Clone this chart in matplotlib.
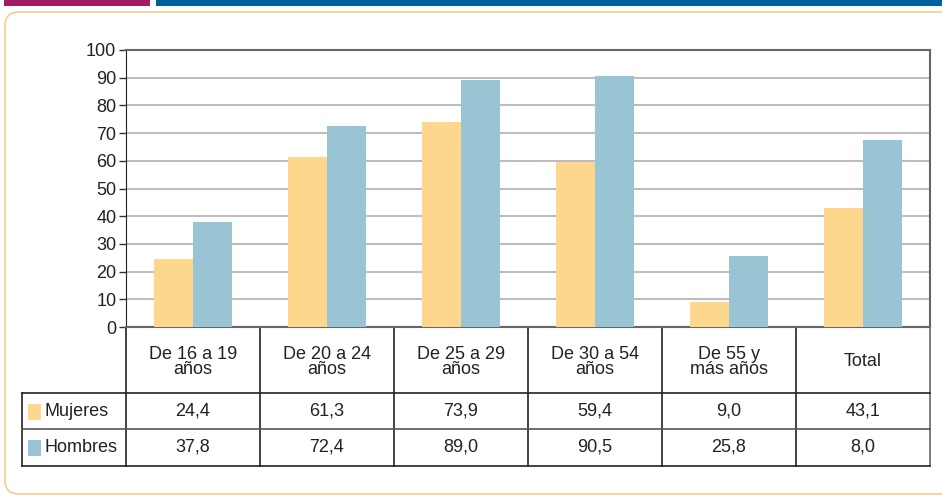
import matplotlib.pyplot as plt
from matplotlib.patches import FancyBboxPatch, Rectangle

plt.rcParams['font.family'] = ['Liberation Sans', 'DejaVu Sans']

categories = ['De 16 a 19\naños', 'De 20 a 24\naños', 'De 25 a 29\naños',
              'De 30 a 54\naños', 'De 55 y\nmás años', 'Total']
mujeres = [24.4, 61.3, 73.9, 59.4, 9.0, 43.1]
hombres = [37.8, 72.4, 89.0, 90.5, 25.8, 67.6]
mujeres_txt = ['24,4', '61,3', '73,9', '59,4', '9,0', '43,1']
hombres_txt = ['37,8', '72,4', '89,0', '90,5', '25,8', '8,0']
series = ['Mujeres', 'Hombres']
yticks = list(range(0, 101, 10))

c_muj = '#FDD78D'
c_hom = '#98C4D3'
W, H = 942, 497
fs = 13

fig = plt.figure(figsize=(W / 100, H / 100), dpi=100)

# pixel overlay for frame, banner and table
bg = fig.add_axes([0, 0, 1, 1])
bg.set_xlim(0, W)
bg.set_ylim(H, 0)
bg.axis('off')
bg.add_patch(Rectangle((4, 0), 146, 6, color='#A21C64', lw=0))
bg.add_patch(Rectangle((156, 0), W - 156, 6, color='#0060A0', lw=0))
bg.add_patch(FancyBboxPatch((5, 12), W + 20, 482, boxstyle='round,pad=0,rounding_size=14',
                            fc='none', ec='#F6CC8E', lw=1.2))

# bar chart
x0, x1, ytop, ybot = 126, 930, 50, 327
ax = fig.add_axes([x0 / W, 1 - ybot / H, (x1 - x0) / W, (ybot - ytop) / H])
n = len(categories)
xs = list(range(n))
bw = 0.29
ax.bar([x - bw / 2 for x in xs], mujeres, bw, color=c_muj, zorder=3)
ax.bar([x + bw / 2 for x in xs], hombres, bw, color=c_hom, zorder=3)
ax.set_xlim(-0.5, n - 0.5)
ax.set_ylim(0, 100)
ax.set_yticks(yticks)
ax.set_yticklabels([str(v) for v in yticks], fontsize=fs, color='#222222')
ax.set_xticks([])
ax.yaxis.grid(True, color='#BDBDBD', lw=1.5, zorder=0)
ax.tick_params(axis='y', length=5, width=1, color='#333333', pad=2)
for s in ['top', 'right']:
    ax.spines[s].set_color('#666666')
    ax.spines[s].set_linewidth(1.5)
ax.spines['left'].set_color('#222222')
ax.spines['bottom'].set_color('#666666')
ax.spines['bottom'].set_linewidth(1.5)

# table
colw = (x1 - x0) / n
rows = [327, 393, 429, 466]
lc = '#222222'
for i in range(n + 1):
    xp = x0 + i * colw
    bg.plot([xp, xp], [rows[0], rows[3]], color='#666666' if i == n else lc, lw=1.2)
bg.plot([22, 22], [rows[1], rows[3]], color=lc, lw=1.2)
bg.plot([22, x1], [rows[1], rows[1]], color=lc, lw=1.2)
bg.plot([22, x1], [rows[2], rows[2]], color='#555555', lw=1.2)
bg.plot([22, x1], [rows[3], rows[3]], color=lc, lw=1.2)

for i, cat in enumerate(categories):
    cx = x0 + (i + 0.5) * colw
    bg.text(cx, 362, cat, ha='center', va='center', fontsize=fs, color='#222222',
            linespacing=0.9)
    bg.text(cx, 411, mujeres_txt[i], ha='center', va='center', fontsize=fs, color='#222222')
    bg.text(cx, 447, hombres_txt[i], ha='center', va='center', fontsize=fs, color='#222222')

for name, col, yc in zip(series, [c_muj, c_hom], [411, 447]):
    bg.add_patch(Rectangle((28, yc - 7), 13, 16, color=col, lw=0))
    bg.text(44, yc, name, ha='left', va='center', fontsize=fs, color='#222222')

fig.savefig('out.png', dpi=100)
